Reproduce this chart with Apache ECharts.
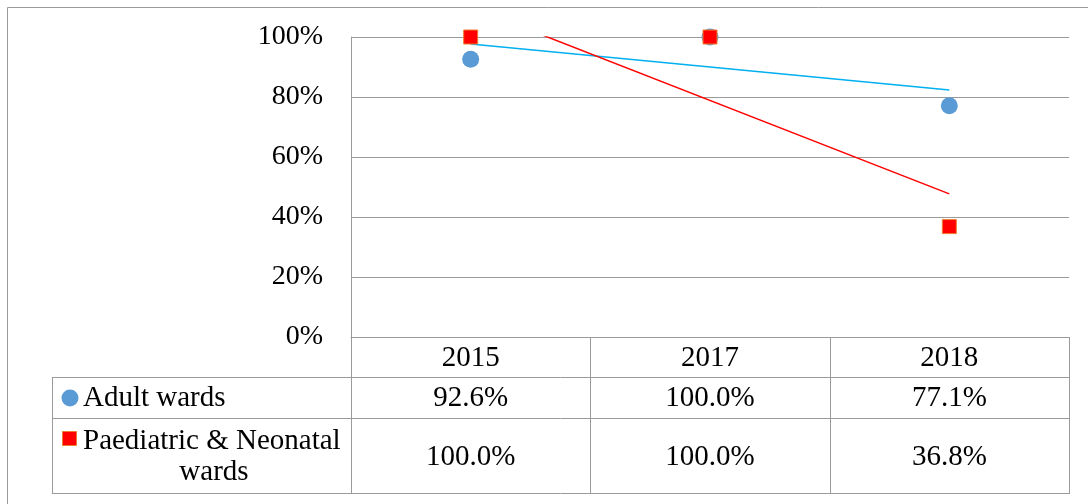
<!DOCTYPE html>
<html>
<head>
<meta charset="utf-8">
<script src="https://cdn.jsdelivr.net/npm/echarts@6/dist/echarts.min.js"></script>
<style>
  html, body { margin: 0; padding: 0; background: #fff; }
  #chart { width: 1088px; height: 504px; }
</style>
</head>
<body>
<div id="chart"></div>
<script>
// data
const years = ['2015', '2017', '2018']
const adultWards = [92.6, 100.0, 77.1]
const paedWards = [100.0, 100.0, 36.8]
// linear trendlines, endpoints at 2015 and 2018
const adultTrend = [97.7, 82.3]
const paedTrend = [110.0, 47.7]
const yTicks = [0, 20, 40, 60, 80, 100]
const seriesNames = ['Adult wards', 'Paediatric & Neonatal wards']

// layout
const GRID_LEFT = 351
const GRID_RIGHT = 1069
const GRID_TOP = 37
const GRID_BOTTOM = 337
const ROW1 = 377
const ROW2 = 418
const ROW_END = 493
const TABLE_LEFT = 52
const FONT = "'Liberation Serif', 'Times New Roman', serif"
const LINE = '#9a9a9a'

const chart = echarts.init(document.getElementById('chart'))
const colW = (GRID_RIGHT - GRID_LEFT) / years.length

function hline(y, x1, x2) {
    return { type: 'line', shape: { x1: x1, y1: y + 0.5, x2: x2, y2: y + 0.5 }, style: { stroke: LINE, lineWidth: 1 }, z: 10 }
}
function vline(x, y1, y2) {
    return { type: 'line', shape: { x1: x + 0.5, y1: y1, x2: x + 0.5, y2: y2 }, style: { stroke: LINE, lineWidth: 1 }, z: 10 }
}
function cellText(txt, x, y, align) {
    return {
        type: 'text', x: x, y: y, z: 11,
        style: { text: txt, font: '29px ' + FONT, fill: '#000', align: align || 'center', verticalAlign: 'middle' }
    }
}

const graphics = []
// outer frame
graphics.push({ type: 'rect', shape: { x: 7.5, y: 7.5, width: 1200, height: 600 }, style: { fill: 'none', stroke: LINE, lineWidth: 1 }, z: 1 })
// table grid
graphics.push(hline(ROW1, TABLE_LEFT, GRID_RIGHT))
graphics.push(hline(ROW2, TABLE_LEFT, GRID_RIGHT))
graphics.push(hline(ROW_END, TABLE_LEFT, GRID_RIGHT))
graphics.push(vline(TABLE_LEFT, ROW1, ROW_END + 1))
for (let i = 0; i <= years.length; i++) {
    graphics.push(vline(Math.round(GRID_LEFT + i * colW), GRID_BOTTOM, ROW_END + 1))
}
// legend keys
graphics.push({ type: 'circle', shape: { cx: 70, cy: 398, r: 8.5 }, style: { fill: '#5b9bd5' }, z: 11 })
graphics.push(cellText(seriesNames[0], 83, 398, 'left'))
graphics.push({ type: 'rect', shape: { x: 62.5, y: 431.5, width: 14, height: 14 }, style: { fill: '#ff0000', stroke: '#ed7d31', lineWidth: 1 }, z: 11 })
graphics.push(cellText('Paediatric & Neonatal', 83, 441, 'left'))
graphics.push(cellText('wards', 214, 472))
// values
years.forEach((y, i) => {
    const cx = GRID_LEFT + (i + 0.5) * colW
    graphics.push(cellText(adultWards[i].toFixed(1) + '%', cx, 398))
    graphics.push(cellText(paedWards[i].toFixed(1) + '%', cx, 457))
})

const option = {
    animation: false,
    backgroundColor: '#fff',
    grid: {
        left: GRID_LEFT,
        right: 1088 - GRID_RIGHT,
        top: GRID_TOP,
        bottom: 504 - GRID_BOTTOM
    },
    xAxis: {
        type: 'category',
        data: years,
        boundaryGap: true,
        axisLine: { show: true, lineStyle: { color: LINE, width: 1 } },
        axisTick: { show: false },
        axisLabel: {
            margin: 7,
            fontFamily: FONT,
            fontSize: 29,
            color: '#000'
        },
        splitLine: { show: false }
    },
    yAxis: {
        type: 'value',
        min: yTicks[0],
        max: yTicks[yTicks.length - 1],
        interval: yTicks[1] - yTicks[0],
        axisLine: { show: true, lineStyle: { color: LINE, width: 1 } },
        axisTick: { show: false },
        axisLabel: {
            margin: 28,
            fontFamily: FONT,
            fontSize: 28,
            color: '#000',
            formatter: '{value}%'
        },
        splitLine: { show: true, lineStyle: { color: LINE, width: 1 } }
    },
    series: [
        {
            name: 'Adult trend',
            type: 'line',
            data: [[0, adultTrend[0]], [years.length - 1, adultTrend[1]]],
            symbol: 'none',
            clip: true,
            lineStyle: { color: '#00b0f0', width: 1.5 },
            z: 2
        },
        {
            name: 'Paed trend',
            type: 'line',
            data: [[0, paedTrend[0]], [years.length - 1, paedTrend[1]]],
            symbol: 'none',
            clip: true,
            lineStyle: { color: '#ff0000', width: 1.5 },
            z: 2
        },
        {
            name: seriesNames[0],
            type: 'scatter',
            data: adultWards,
            symbol: 'circle',
            symbolSize: 17,
            itemStyle: { color: '#5b9bd5', opacity: 1 },
            z: 3
        },
        {
            name: seriesNames[1],
            type: 'scatter',
            data: paedWards,
            symbol: 'rect',
            symbolSize: 14,
            itemStyle: { color: '#ff0000', borderColor: '#ed7d31', borderWidth: 1, opacity: 1 },
            z: 4
        }
    ],
    graphic: graphics
}
chart.setOption(option)
</script>
</body>
</html>
